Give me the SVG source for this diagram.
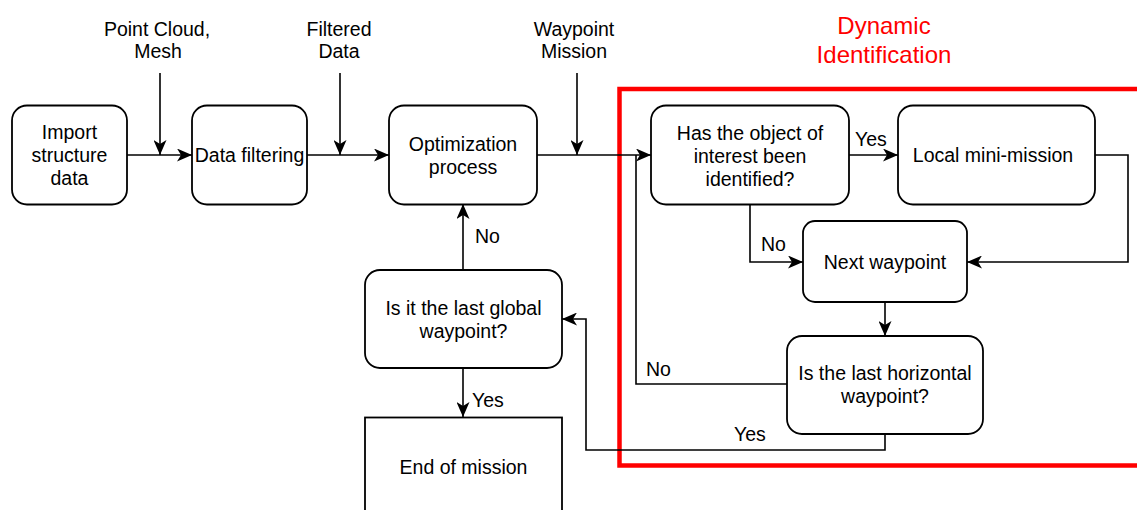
<svg xmlns="http://www.w3.org/2000/svg" width="1137" height="510" viewBox="0 0 1137 510">
<style>
  .box{fill:#fff;stroke:#000;stroke-width:1.8}
  .con{fill:none;stroke:#000;stroke-width:1.6}
  .t{font-family:"Liberation Sans",Arial,sans-serif;font-size:19.5px;fill:#000;text-anchor:middle}
  .l{font-family:"Liberation Sans",Arial,sans-serif;font-size:19.5px;fill:#000}
  .red{font-family:"Liberation Sans",Arial,sans-serif;font-size:24px;fill:#ff0000;text-anchor:middle}
</style>
<defs>
  <marker id="arr" viewBox="0 0 15 13" refX="15" refY="6.5" markerWidth="15" markerHeight="13" orient="auto" markerUnits="userSpaceOnUse">
    <path d="M0,0 L15,6.5 L0,13 L4,6.5 Z" fill="#000"/>
  </marker>
</defs>
<rect width="1137" height="510" fill="#fff"/>

<g id="dynamic-identification">
  <rect x="619.5" y="89" width="600" height="376.5" fill="none" stroke="#ff0000" stroke-width="4.5"/>
  <text class="red" x="884" y="34">Dynamic</text>
  <text class="red" x="884" y="63">Identification</text>
</g>

<g id="connectors">
  <path class="con" d="M127,155 H192" marker-end="url(#arr)"/>
  <path class="con" d="M160,73 V155" marker-end="url(#arr)"/>
  <path class="con" d="M307,155 H389" marker-end="url(#arr)"/>
  <path class="con" d="M340,73 V155" marker-end="url(#arr)"/>
  <path class="con" d="M537,155 H651" marker-end="url(#arr)"/>
  <path class="con" d="M577,73 V155" marker-end="url(#arr)"/>
  <path class="con" d="M849,155 H898" marker-end="url(#arr)"/>
  <path class="con" d="M750,204 V262 H803" marker-end="url(#arr)"/>
  <path class="con" d="M1095,155 H1128 V262 H967" marker-end="url(#arr)"/>
  <path class="con" d="M885,302 V336" marker-end="url(#arr)"/>
  <path class="con" d="M787,384 H636 V155"/>
  <path class="con" d="M885,434 V450 H586 V319 H562" marker-end="url(#arr)"/>
  <path class="con" d="M463,270 V204" marker-end="url(#arr)"/>
  <path class="con" d="M463,368 V417" marker-end="url(#arr)"/>
  <text class="l" x="855" y="146">Yes</text>
  <text class="l" x="761" y="251">No</text>
  <text class="l" x="646" y="376">No</text>
  <text class="l" x="734" y="441">Yes</text>
  <text class="l" x="475" y="243">No</text>
  <text class="l" x="472" y="407">Yes</text>
</g>

<g id="label-point-cloud">
  <text class="t" x="157" y="36">Point Cloud,</text>
  <text class="t" x="158" y="58">Mesh</text>
</g>
<g id="label-filtered-data">
  <text class="t" x="339" y="36">Filtered</text>
  <text class="t" x="339" y="58">Data</text>
</g>
<g id="label-waypoint-mission">
  <text class="t" x="574" y="36">Waypoint</text>
  <text class="t" x="574" y="58">Mission</text>
</g>

<g id="import">
  <rect class="box" x="12" y="105.5" width="115" height="99" rx="15"/>
  <text class="t" x="69.5" y="139">Import</text>
  <text class="t" x="69.5" y="162">structure</text>
  <text class="t" x="69.5" y="185">data</text>
</g>
<g id="data-filtering">
  <rect class="box" x="192" y="105.5" width="115" height="99" rx="15"/>
  <text class="t" x="249.5" y="162">Data filtering</text>
</g>
<g id="optimization">
  <rect class="box" x="389" y="105.5" width="148" height="99" rx="15"/>
  <text class="t" x="463" y="151">Optimization</text>
  <text class="t" x="463" y="174">process</text>
</g>
<g id="has-object">
  <rect class="box" x="651" y="105.5" width="198" height="99" rx="15"/>
  <text class="t" x="750" y="140">Has the object of</text>
  <text class="t" x="750" y="163">interest been</text>
  <text class="t" x="750" y="186">identified?</text>
</g>
<g id="local-mini-mission">
  <rect class="box" x="898" y="105.5" width="197" height="99" rx="15"/>
  <text class="t" x="993" y="162">Local mini-mission</text>
</g>
<g id="next-waypoint">
  <rect class="box" x="803" y="221" width="164" height="81" rx="12"/>
  <text class="t" x="885" y="269">Next waypoint</text>
</g>
<g id="last-horizontal">
  <rect class="box" x="787" y="336" width="196" height="98" rx="15"/>
  <text class="t" x="885" y="380">Is the last horizontal</text>
  <text class="t" x="885" y="403">waypoint?</text>
</g>
<g id="last-global">
  <rect class="box" x="365" y="270" width="197" height="98" rx="15"/>
  <text class="t" x="463.5" y="315">Is it the last global</text>
  <text class="t" x="463.5" y="338">waypoint?</text>
</g>
<g id="end-of-mission">
  <rect class="box" x="365" y="417.5" width="197" height="110"/>
  <text class="t" x="463.5" y="474">End of mission</text>
</g>
</svg>
